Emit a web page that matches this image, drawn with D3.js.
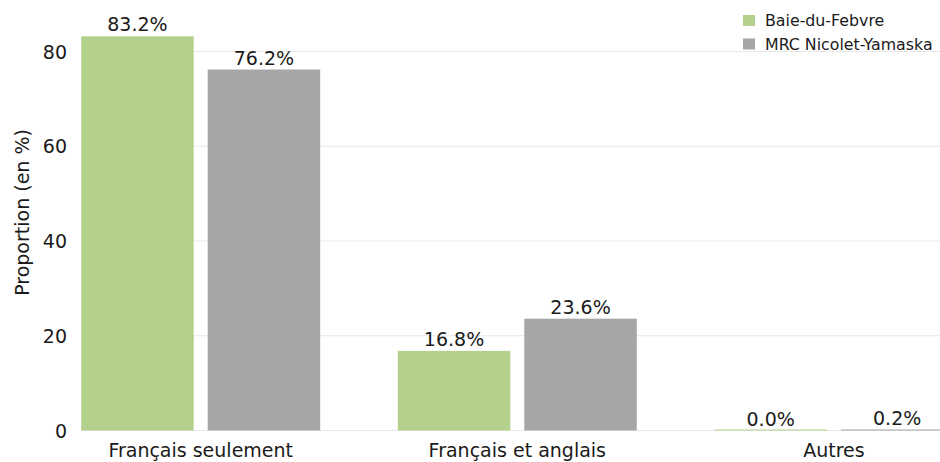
<!DOCTYPE html>
<html>
<head>
<meta charset="utf-8">
<script src="https://cdn.jsdelivr.net/npm/d3@7"></script>
<style>
  html, body { margin: 0; padding: 0; background: #ffffff; }
  svg { display: block; font-family: "DejaVu Sans", sans-serif; }
</style>
</head>
<body>
<svg id="chart" width="940" height="462"></svg>
<script>
const categories = ["Français seulement", "Français et anglais", "Autres"];
const seriesNames = ["Baie-du-Febvre", "MRC Nicolet-Yamaska"];
const baieValues = [83.2, 16.8, 0.0];
const mrcValues = [76.2, 23.6, 0.2];
const yTicks = [0, 20, 40, 60, 80];
const colors = ["#b3d18c", "#a6a6a6"];

const svg = d3.select("#chart");
const W = 940, H = 462;

const plotLeft = 81;
const y = d3.scaleLinear().domain([0, 80]).range([430.5, 51.5]);

const x = d3.scaleBand().domain(categories).range([42.4, 992.2]).paddingInner(0).paddingOuter(0);
const xs = d3.scaleBand().domain(seriesNames).range([-119.5, 119.5]).paddingInner(0.1107).paddingOuter(0);

const seriesValues = [baieValues, mrcValues];

// gridlines
svg.append("g").selectAll("line").data(yTicks).join("line")
  .attr("x1", plotLeft).attr("x2", W)
  .attr("y1", d => y(d)).attr("y2", d => y(d))
  .attr("stroke", "#e8e8e8").attr("stroke-width", 1);

// y tick labels
svg.append("g").selectAll("text").data(yTicks).join("text")
  .attr("x", 67).attr("y", d => y(d))
  .attr("text-anchor", "end").attr("dominant-baseline", "central")
  .attr("font-size", 19).attr("fill", "#1a1a1a")
  .text(d => d);

// y label
svg.append("text")
  .attr("transform", "translate(29,212.5) rotate(-90)")
  .attr("text-anchor", "middle")
  .attr("font-size", 19).attr("fill", "#1a1a1a")
  .text("Proportion (en %)");

// bars
const data = [];
categories.forEach((c, i) => {
  seriesNames.forEach((s, j) => {
    data.push({ cat: c, series: s, value: seriesValues[j][i], color: colors[j] });
  });
});

const cx = c => x(c) + x.bandwidth() / 2;

svg.append("g").selectAll("rect").data(data).join("rect")
  .attr("x", d => cx(d.cat) + xs(d.series))
  .attr("width", xs.bandwidth())
  .attr("y", d => Math.min(y(d.value), y(0) - 1))
  .attr("height", d => Math.max(y(0) - y(d.value), 1))
  .attr("fill", d => d.color);

// value labels
svg.append("g").selectAll("text").data(data).join("text")
  .attr("x", d => cx(d.cat) + xs(d.series) + xs.bandwidth() / 2)
  .attr("y", d => y(d.value) - 5)
  .attr("text-anchor", "middle")
  .attr("font-size", 19).attr("fill", "#1a1a1a")
  .text(d => d.value.toFixed(1) + "%");

// category labels
svg.append("g").selectAll("text").data(categories).join("text")
  .attr("x", d => cx(d))
  .attr("y", 456.5)
  .attr("text-anchor", "middle")
  .attr("font-size", 19).attr("fill", "#1a1a1a")
  .text(d => d);

// legend
const legend = svg.append("g");
seriesNames.forEach((s, j) => {
  const ly = 20.5 + j * 23.5;
  legend.append("rect")
    .attr("x", 743).attr("y", ly - 5.5).attr("width", 12).attr("height", 11)
    .attr("fill", colors[j]);
  legend.append("text")
    .attr("x", 765).attr("y", ly)
    .attr("dominant-baseline", "central")
    .attr("font-size", 15.8).attr("fill", "#1a1a1a")
    .text(s);
});
</script>
</body>
</html>
